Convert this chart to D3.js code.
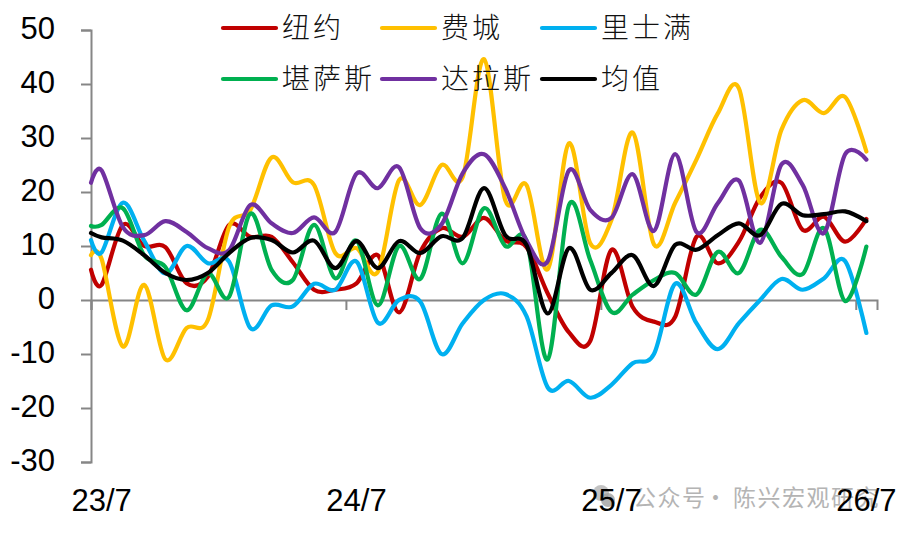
<!DOCTYPE html>
<html>
<head>
<meta charset="utf-8">
<script src="https://cdn.jsdelivr.net/npm/d3@7"></script>
<style>
  body { margin: 0; background: #fff; }
  svg { display: block; }
  .tick-label { font-family: "Liberation Sans", Arial, sans-serif; font-size: 31px; fill: #000; }
  .legend-label { font-family: "Noto Sans CJK SC", sans-serif; font-weight: 300; font-size: 28px; letter-spacing: 3px; fill: #111; }
  .mark { font-family: "Noto Sans CJK SC", sans-serif; font-size: 23px; letter-spacing: 1.5px; fill: #b4b4b4; }
</style>
</head>
<body>
<div class="canvas"></div>
<script>
// Values; the first entry of each series is the clipped edge at the axis
const months = [-0.5].concat(d3.range(0, 37))
const xLabels = [[0, '23/7'], [12, '24/7'], [24, '25/7'], [36, '26/7']]
const yTicks = [50, 40, 30, 20, 10, 0, -10, -20, -30]
const xTicks = [-0.5, 11.5, 23.5, 35.5]

const newYork = [5.6, 2.8, 13.9, 10, 9.8, 3.1, 4.3, 13.9, 11.7, 11.7, 7, 1.9, 1.9, 3.1, 8.3, -2.3, 8.9, 13.3, 11.7, 15.2, 11, 9.8, 1.2, -6, -7.6, 9.3, -1.3, -4, -3.1, 11.7, 6.8, 10.8, 19, 21.7, 13, 15.4, 10.8, 15]
const philadelphia = [8.3, 7.6, -8.6, 2.8, -11, -5.2, -3.7, 13.5, 16.7, 26.4, 21.8, 21.3, 8.7, 9.6, 5.2, 22.2, 17.6, 25, 22.8, 44.6, 18.5, 21.3, 5.7, 29, 10.5, 14.8, 31, 10.3, 18, 26, 34.5, 39.2, 18, 31.5, 37, 34.6, 37.6, 27.5]
const richmond = [11.1, 8.8, 18, 11, 4.9, 10, 6.8, 7.1, -5.2, -1, -1.2, 3, 1.9, 7.1, -4.2, 0, -0.3, -10, -4.3, 0, 1.1, -3, -16.2, -15, -18.1, -15.7, -11.7, -10, 3, -4.3, -9.1, -4.3, 0, 3.9, 1.9, 4, 7.2, -6.1]
const kansasCity = [13.7, 13.9, 17, 8.3, 6.1, -1.9, 4.9, 0.6, 16, 5.6, 3.7, 13.9, 4, 11, -1, 10, 3.9, 16, 6.8, 17, 10, 11, -11, 17.6, 7.4, -2.2, 1, 3.7, 5, 1, 8.9, 5, 13, 8, 4.8, 13.3, -0.2, 9.9]
const dallas = [21.7, 24, 13.5, 12, 14.6, 12.6, 9.6, 9.2, 17.6, 14.2, 12.4, 15.3, 12.6, 23.4, 20.7, 24.6, 13.3, 14, 23.5, 27, 20.7, 11, 7.2, 24, 16.7, 15.2, 23.3, 12.8, 27, 12.6, 17.9, 22.1, 10.6, 25.1, 21.3, 12.4, 27, 26]
const average = [12.4, 11.6, 11, 8.3, 5, 3.7, 5, 8.7, 11.5, 11.1, 8.8, 11, 5.9, 10.9, 5.9, 10.9, 8.7, 11.8, 11.5, 20.7, 12, 10.2, -2.5, 9.6, 1.9, 5, 8.3, 2.6, 10.2, 9.3, 12, 14.2, 12, 17.8, 15.7, 15.9, 16.4, 14.6]

const seriesNames = ['纽约', '费城', '里士满', '堪萨斯', '达拉斯', '均值']
const seriesValues = [newYork, philadelphia, richmond, kansasCity, dallas, average]
const seriesColors = ['#C00000', '#FFC000', '#00B0F0', '#00B050', '#7030A0', '#000000']

const dims = { width: 908, height: 533, left: 91, right: 877, top: 30, bottom: 462 }

const svg = d3.select('.canvas')
    .append('svg')
    .attr('width', dims.width)
    .attr('height', dims.height)

const x = d3.scaleLinear().domain([-0.5, 36.5]).range([dims.left, dims.right])
const y = d3.scaleLinear().domain([-30, 50]).range([dims.bottom, dims.top])

// Watermark goes first, the axis labels print over it
svg.append('circle').attr('cx', 601).attr('cy', 493).attr('r', 8).attr('fill', '#b4b4b4').attr('opacity', 0.8)
svg.append('circle').attr('cx', 608).attr('cy', 500).attr('r', 7).attr('fill', '#a0a0a0').attr('opacity', 0.8)

svg.append('text').attr('class', 'mark').attr('x', 633).attr('y', 506).text('公众号')
svg.append('text').attr('class', 'mark').attr('x', 704).attr('y', 506).text('·')
svg.append('text').attr('class', 'mark').attr('x', 733).attr('y', 506).text('陈兴宏观研究')

// Axes
const yAxis = svg.append('g')
    .attr('transform', `translate(${dims.left}, 0)`)
    .call(d3.axisLeft(y).tickValues(yTicks).tickSize(10).tickPadding(26).tickFormat(d => String(d)))

yAxis.selectAll('text').attr('class', 'tick-label').attr('dy', '0.28em')

const xAxis = svg.append('g')
    .attr('transform', `translate(0, ${y(0)})`)
    .call(d3.axisBottom(x).tickValues(xTicks).tickSize(10).tickFormat(''))

svg.selectAll('.domain, .tick line')
    .attr('stroke', '#868686')
    .attr('stroke-width', 2)

// Lines
const line = d3.line()
    .x((d, i) => x(months[i]))
    .y(d => y(d))
    .curve(d3.curveCatmullRom.alpha(0))

svg.selectAll('path.series')
    .data(seriesValues)
    .enter()
    .append('path')
    .attr('class', 'series')
    .attr('fill', 'none')
    .attr('stroke', (d, i) => seriesColors[i])
    .attr('stroke-width', 4.2)
    .attr('stroke-linecap', 'round')
    .attr('d', line)

// x labels sit below the plot, centred on the month
svg.selectAll('text.x-label')
    .data(xLabels)
    .enter()
    .append('text')
    .attr('class', 'tick-label x-label')
    .attr('x', d => x(d[0]))
    .attr('y', 511)
    .attr('text-anchor', 'middle')
    .text(d => d[1])

// Legend, two rows of three
const legendX = [223, 382, 542]
const legendY = [28, 79]

const legend = svg.selectAll('g.legend')
    .data(seriesNames)
    .enter()
    .append('g')
    .attr('class', 'legend')
    .attr('transform', (d, i) => `translate(${legendX[i % 3]}, ${legendY[Math.floor(i / 3)]})`)

legend.append('line')
    .attr('x2', 53)
    .attr('stroke', (d, i) => seriesColors[i])
    .attr('stroke-width', 4.2)
    .attr('stroke-linecap', 'round')

legend.append('text')
    .attr('class', 'legend-label')
    .attr('x', 59)
    .attr('y', 10)
    .text(d => d)
</script>
</body>
</html>
